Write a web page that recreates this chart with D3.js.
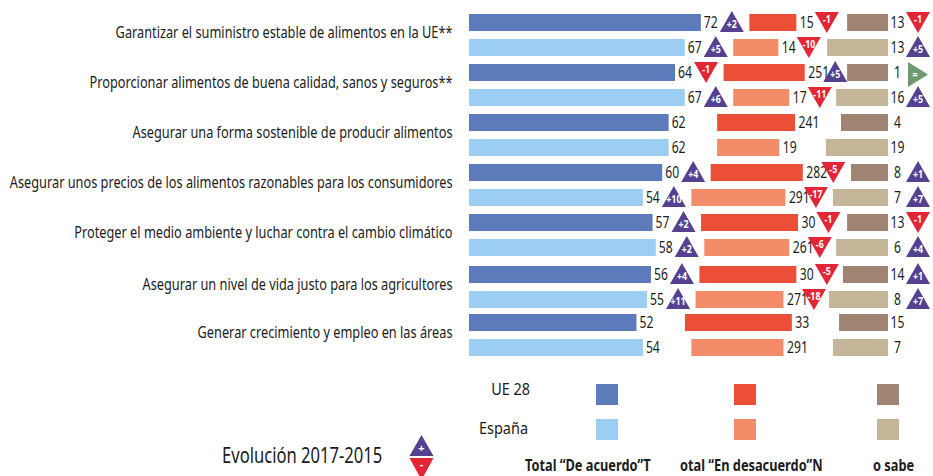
<!DOCTYPE html>
<html><head><meta charset="utf-8">
<script src="https://cdnjs.cloudflare.com/ajax/libs/d3/7.8.5/d3.min.js"></script>
<style>html,body{margin:0;padding:0;background:#fff}svg{display:block}text{font-family:"Noto Sans",sans-serif;fill:#1c1c1c}</style>
</head><body><svg id="c" width="933" height="476"></svg>
<script>
const categories = ["Garantizar el suministro estable de alimentos en la UE**","Proporcionar alimentos de buena calidad, sanos y seguros**","Asegurar una forma sostenible de producir alimentos","Asegurar unos precios de los alimentos razonables para los consumidores","Proteger el medio ambiente y luchar contra el cambio climático","Asegurar un nivel de vida justo para los agricultores","Generar crecimiento y empleo en las áreas"];
const regions = ["UE 28","España"];
// two values per category: UE 28, España
const agree =        [72,67, 64,67, 62,62, 60,54, 57,58, 56.5,55.3, 52,54];
const agreeLabels =  ["72","67","64","67","62","62","60","54","57","58","56","55","52","54"];
const agreeDelta =   ["+2","+5","-1","+6",null,null,"+4","+10","+2","+2","+4","+11",null,null];
const disagree =     [14.6,14,25.2,17.4,24.2,19.3,28.6,29.2,30.1,26.4,30.1,27.3,33.2,28.6];
const disagreeLabels=["15","14","251","17","241","19","282","291","30","261","30","271","33","291"];
const disagreeDelta= ["-1","-10","+5","-11",null,null,"-5","-17","-1","-6","-5","-18",null,null];
const unknown =      [12.7,18.9,12.7,16.1,14.6,19.3,11.5,17.1,12.7,16.1,14,18.3,15.2,17.1];
const unknownLabels= ["13","13","1","16","4","19","8","7","13","6","14","8","15","7"];
const unknownDelta=  ["-1","+5","=","+5",null,null,"+1","+7","-1","+4","+1","+7",null,null];
const legendHeads =  ["Total “De acuerdo”T","otal “En desacuerdo”N","o sabe"];
const legendTitle =  "Evolución 2017-2015";
const colors = {agree:["#5b7bbb","#9ccdf2"],disagree:["#eb4f37","#f38c68"],unknown:["#9f8474","#c5b599"]};
const tri = {up:"#55418f",down:"#e32636",eq:"#6e9a6f"};

const svg = d3.select("#c");
const x = d3.scaleLinear().domain([0,100]).range([0,322]);
const X0 = 469, GAP = 48.5, END = 888;
const y0 = d3.scaleBand().domain(categories).range([14,364]).paddingInner(0).paddingOuter(0);
const y1 = d3.scaleBand().domain(regions).range([0,42]).paddingOuter(0).paddingInner(.32);
const rows = [];
categories.forEach((c,i)=>regions.forEach((r,j)=>{rows.push({c,r,j,k:i*2+j})}));
const groupTop = c=>y0(c)+(c===categories[5]?2:0);
const rowTop = d=>groupTop(d.c)+y1(d.r);
const H = y1.bandwidth();

function cond(sel,px,py,sx,anchor){
  return sel.attr("text-anchor",anchor||"start").attr("transform",(d,i)=>`translate(${px(d,i)},${py(d,i)}) scale(${sx},1)`);
}
function triangle(g,cx,ty,label){
  const up=label[0]==="+", eq=label==="=";
  const w=12;
  const shape = eq? `M${cx-10},${ty-2}L${cx+10},${ty+10.5}L${cx-10},${ty+23}Z`
    : up? `M${cx},${ty-3}L${cx+w},${ty+18}L${cx-w},${ty+18}Z`
    : `M${cx-w},${ty-2}L${cx+w},${ty-2}L${cx},${ty+19}Z`;
  g.append("path").attr("d",shape).attr("fill",eq?tri.eq:up?tri.up:tri.down);
  g.append("text").text(label).attr("text-anchor","middle")
    .attr("transform",`translate(${eq?cx-3:cx},${up?ty+13.5:eq?ty+14:ty+8.5}) scale(.8,1)`)
    .style("font-size","11px").style("font-weight","700").style("fill","#fff");
}

// category labels
cond(svg.append("g").selectAll("text").data(categories).join("text").text(d=>d).style("font-size","17px"),
  ()=>452.5,d=>groupTop(d)+24,.75,"end");

// bars
const g = svg.append("g");
g.selectAll(".a").data(rows).join("rect").attr("x",X0).attr("y",rowTop).attr("height",H)
  .attr("width",d=>x(agree[d.k])).attr("fill",d=>colors.agree[d.j]);
const dStart = d=>X0+x(agree[d.k])+GAP;
g.selectAll(".d").data(rows).join("rect").attr("x",dStart).attr("y",rowTop).attr("height",H)
  .attr("width",d=>x(disagree[d.k])).attr("fill",d=>colors.disagree[d.j]);
g.selectAll(".u").data(rows).join("rect").attr("x",d=>END-x(unknown[d.k])).attr("y",rowTop).attr("height",H)
  .attr("width",d=>x(unknown[d.k])).attr("fill",d=>colors.unknown[d.j]);

// value labels
const lab = svg.append("g").style("font-size","16px");
cond(lab.selectAll(".la").data(rows).join("text").text(d=>agreeLabels[d.k]),d=>X0+x(agree[d.k])+3,d=>rowTop(d)+13.5,.76);
cond(lab.selectAll(".ld").data(rows).join("text").text(d=>disagreeLabels[d.k]),d=>dStart(d)+x(disagree[d.k])+3.5,d=>rowTop(d)+13.5,.76);
cond(lab.selectAll(".lu").data(rows).join("text").text(d=>unknownLabels[d.k]),()=>897.5,d=>rowTop(d)+13.5,.76,"middle");

// evolution triangles
const tg = svg.append("g");
rows.forEach(d=>{
  if(agreeDelta[d.k]) triangle(tg,X0+x(agree[d.k])+31,rowTop(d),agreeDelta[d.k]);
  if(disagreeDelta[d.k]) triangle(tg,dStart(d)+x(disagree[d.k])+30.5,rowTop(d),disagreeDelta[d.k]);
  if(unknownDelta[d.k]) triangle(tg,918,rowTop(d),unknownDelta[d.k]);
});

// legend
const leg = svg.append("g");
const legX = d3.scaleOrdinal().domain(["agree","disagree","unknown"]).range([596,734,877]);
const legY = d3.scalePoint().domain(regions).range([384,419]);
regions.forEach((r,j)=>{
  Object.keys(colors).forEach(k=>leg.append("rect").attr("x",legX(k)).attr("y",legY(r)).attr("width",22).attr("height",21).attr("fill",colors[k][j]));
  leg.append("text").text(r).attr("text-anchor","end").attr("transform",`translate(${j?528:530},${legY(r)+(j?15:11)}) scale(.85,1)`).style("font-size","17px");
});
leg.selectAll(".h").data(legendHeads).join("text").text(d=>d).attr("text-anchor","start")
  .attr("transform",(d,i)=>`translate(${[525,680,873][i]},471) scale(.8,1)`).style("font-size","16px").style("font-weight","700");
leg.append("text").text(legendTitle).attr("transform","translate(222,463) scale(.79,1)").style("font-size","21px");
leg.append("path").attr("d","M421.5,435L433.5,456L409.5,456Z").attr("fill",tri.up);
leg.append("path").attr("d","M409.5,458L433.5,458L421.5,480Z").attr("fill",tri.down);
leg.append("text").text("+").attr("text-anchor","middle").attr("transform","translate(421.5,452)").style("font-size","11px").style("font-weight","700").style("fill","#fff");
leg.append("text").text("-").attr("text-anchor","middle").attr("transform","translate(421.5,468)").style("font-size","11px").style("font-weight","700").style("fill","#fff");
</script></body></html>
